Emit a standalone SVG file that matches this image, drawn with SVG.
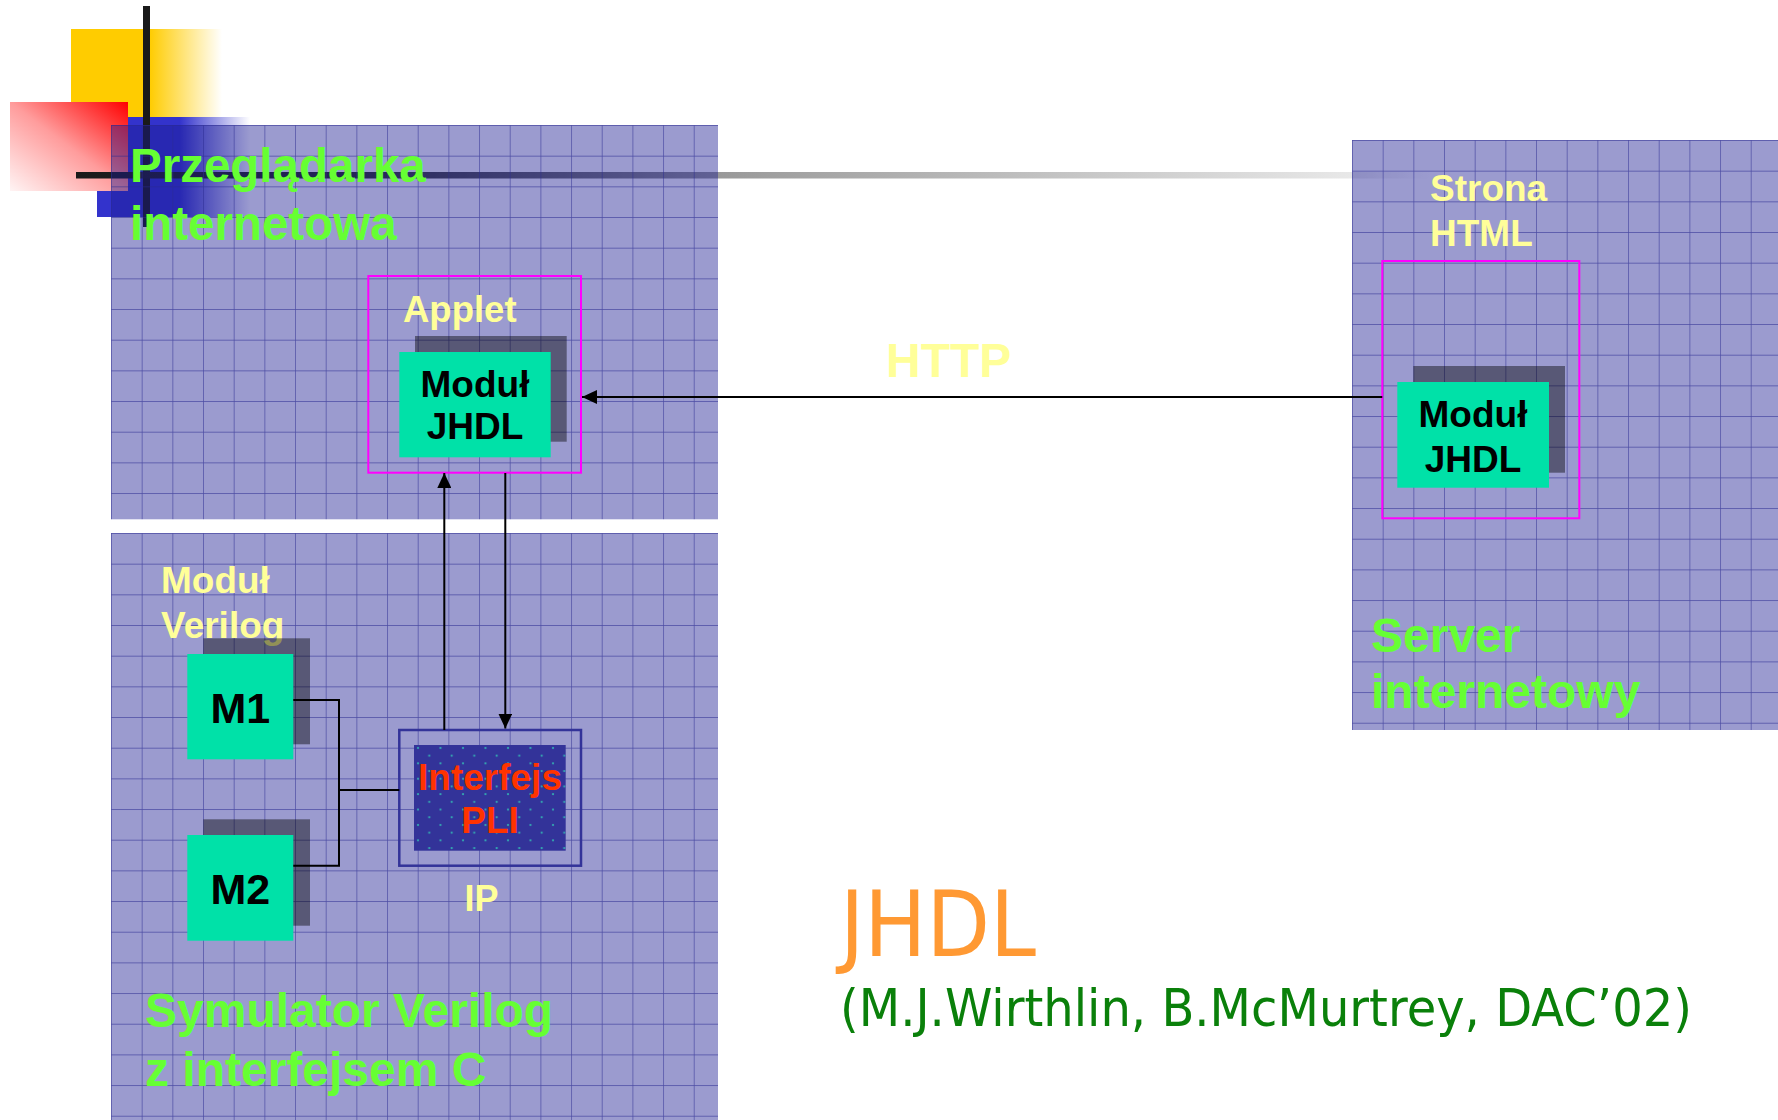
<svg xmlns="http://www.w3.org/2000/svg" width="1778" height="1120" viewBox="0 0 1778 1120">
<style>
.b{font-family:"Liberation Sans",Arial,sans-serif;font-weight:bold}
.yl{fill:#ffff99}
.gr{fill:#66ff33}
.bk{fill:#000}
.mag{fill:none;stroke:#ff00ff;stroke-width:2}
.grn{fill:#00e1a8}
.shd{fill:#000;fill-opacity:0.43}
.con{fill:none;stroke:#000;stroke-width:2}
</style>
<defs>
<linearGradient id="gYel" gradientUnits="userSpaceOnUse" x1="71" y1="0" x2="222" y2="0">
<stop offset="0" stop-color="#ffcc00"/><stop offset="0.52" stop-color="#ffcc00"/><stop offset="1" stop-color="#ffcc00" stop-opacity="0"/>
</linearGradient>
<linearGradient id="gBlue" gradientUnits="userSpaceOnUse" x1="97" y1="0" x2="250" y2="0">
<stop offset="0" stop-color="#3333cc"/><stop offset="0.54" stop-color="#3333cc"/><stop offset="1" stop-color="#3333cc" stop-opacity="0"/>
</linearGradient>
<linearGradient id="gRed" x1="1" y1="0" x2="0" y2="1">
<stop offset="0" stop-color="#ff0000"/><stop offset="0.5" stop-color="#ff9c9c"/><stop offset="1" stop-color="#fff4f4"/>
</linearGradient>
<linearGradient id="gLine" gradientUnits="userSpaceOnUse" x1="76" y1="0" x2="1430" y2="0">
<stop offset="0" stop-color="#1a1a1a"/><stop offset="0.2" stop-color="#2a2a2a"/><stop offset="0.474" stop-color="#999999"/><stop offset="0.942" stop-color="#e8e8e8"/><stop offset="1" stop-color="#ffffff"/>
</linearGradient>
<pattern id="grid1" patternUnits="userSpaceOnUse" x="111" y="125" width="30.67" height="30.67">
<rect width="30.67" height="30.67" fill="#191991" fill-opacity="0.435"/>
<path d="M0,0H30.67M0,0V30.67" stroke="#2a2a90" stroke-opacity="0.7" stroke-width="1.4"/>
</pattern>
<pattern id="grid2" href="#grid1" x="111" y="533"/>
<pattern id="grid3" href="#grid1" x="1352" y="140"/>
<pattern id="dots" patternUnits="userSpaceOnUse" x="414" y="745" width="22.5" height="15.4">
<rect width="22.5" height="15.4" fill="#333399"/>
<circle cx="4" cy="3" r="1.1" fill="#33b3b3"/>
<circle cx="15.25" cy="10.7" r="1.1" fill="#33b3b3"/>
</pattern>
<marker id="arr" markerUnits="userSpaceOnUse" markerWidth="15" markerHeight="14" refX="15" refY="7" orient="auto">
<path d="M0,0L15,7L0,14z" fill="#000"/>
</marker>
</defs>

<g id="decoration">
<rect x="71" y="29" width="151" height="88" fill="url(#gYel)"/>
<rect x="97" y="117" width="153" height="100" fill="url(#gBlue)"/>
<rect x="10" y="102" width="118" height="89" fill="url(#gRed)"/>
<rect x="143" y="6" width="7" height="221" fill="#1a1a1a"/>
<rect x="76" y="172" width="1354" height="6.5" fill="url(#gLine)"/>
</g>

<g id="panel-browser">
<rect x="111" y="125" width="607" height="394.3" fill="url(#grid1)"/>
<text class="b gr" x="130" y="181.5" font-size="47.5">Przeglądarka</text>
<text class="b gr" x="130" y="240" font-size="47.5">internetowa</text>
</g>
<g id="panel-simulator">
<rect x="111" y="533" width="607" height="587" fill="url(#grid2)"/>
<text class="b gr" x="145" y="1027.3" font-size="48">Symulator Verilog</text>
<text class="b gr" x="145" y="1086" font-size="48">z interfejsem C</text>
</g>
<g id="panel-server">
<rect x="1352" y="140" width="426" height="590" fill="url(#grid3)"/>
<text class="b gr" x="1371" y="651.7" font-size="48">Server</text>
<text class="b gr" x="1371" y="708.3" font-size="48">internetowy</text>
</g>

<g id="applet">
<rect class="mag" x="368.3" y="276" width="212.7" height="196.7"/>
<text class="b yl" x="403" y="321.5" font-size="36.5">Applet</text>
</g>
<g id="jhdl-applet">
<rect class="shd" x="415" y="336" width="151.7" height="105.7"/>
<rect class="grn" x="399.3" y="352" width="151.4" height="105.3"/>
<text class="b bk" x="475" y="396.5" font-size="37" text-anchor="middle">Moduł</text>
<text class="b bk" x="475" y="438.5" font-size="37" text-anchor="middle">JHDL</text>
</g>

<g id="html-page">
<text class="b yl" x="1430" y="200.5" font-size="37">Strona</text>
<text class="b yl" x="1430" y="246" font-size="37">HTML</text>
<rect class="mag" x="1382.3" y="261" width="197" height="257.3"/>
</g>
<g id="jhdl-server">
<rect class="shd" x="1413.3" y="366" width="151.7" height="106.7"/>
<rect class="grn" x="1397.3" y="382" width="151.7" height="105.7"/>
<text class="b bk" x="1473" y="426.5" font-size="37" text-anchor="middle">Moduł</text>
<text class="b bk" x="1473" y="471.5" font-size="37" text-anchor="middle">JHDL</text>
</g>

<g id="verilog-label">
<text class="b yl" x="161" y="593.3" font-size="37">Moduł</text>
<text class="b yl" x="161" y="638.3" font-size="37">Verilog</text>
</g>
<g id="m1">
<rect class="shd" x="203.3" y="638.3" width="106.7" height="106"/>
<rect class="grn" x="187.3" y="654" width="106" height="105.3"/>
<text class="b bk" x="240.3" y="722.5" font-size="43" text-anchor="middle">M1</text>
</g>
<g id="m2">
<rect class="shd" x="203.3" y="819.3" width="106.7" height="106.4"/>
<rect class="grn" x="187.3" y="835" width="106" height="105.7"/>
<text class="b bk" x="240.3" y="904.3" font-size="43" text-anchor="middle">M2</text>
</g>

<g id="pli">
<rect x="399.3" y="730" width="181.7" height="135.7" fill="none" stroke="#333399" stroke-width="2.5"/>
<rect x="414" y="745" width="151.7" height="105.7" fill="url(#dots)"/>
<text class="b" fill="#ff3300" x="490" y="790" font-size="37" text-anchor="middle">Interfejs</text>
<text class="b" fill="#ff3300" x="490" y="832.7" font-size="37" text-anchor="middle">PLI</text>
<text class="b yl" x="481.5" y="910.7" font-size="36" text-anchor="middle">IP</text>
</g>

<g id="connectors">
<line class="con" x1="1382.3" y1="397" x2="582" y2="397" marker-end="url(#arr)"/>
<text class="b yl" x="886" y="377" font-size="48">HTTP</text>
<line class="con" x1="444.3" y1="730" x2="444.3" y2="473" marker-end="url(#arr)"/>
<line class="con" x1="505.3" y1="473" x2="505.3" y2="728.5" marker-end="url(#arr)"/>
<polyline class="con" points="293.3,700 339,700 339,865.7 293.3,865.7"/>
<line class="con" x1="339" y1="790" x2="399.3" y2="790"/>
</g>

<g id="caption">
<text x="840" y="956" font-family="'DejaVu Sans',Verdana,sans-serif" font-size="90" fill="#ff9933" textLength="196" lengthAdjust="spacingAndGlyphs">JHDL</text>
<text x="840" y="1026" font-family="'DejaVu Sans',Verdana,sans-serif" font-size="52" fill="#0a800a" textLength="852" lengthAdjust="spacingAndGlyphs">(M.J.Wirthlin, B.McMurtrey, DAC’02)</text>
</g>
</svg>
